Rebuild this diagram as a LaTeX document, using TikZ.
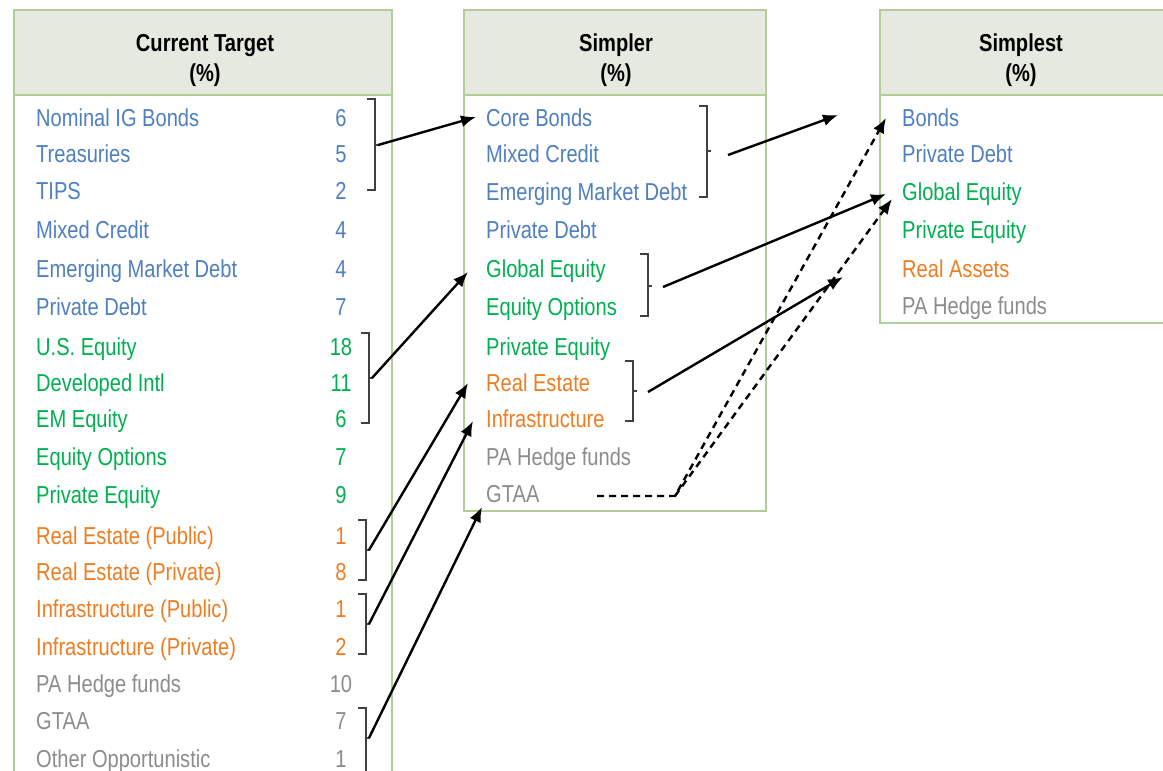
\documentclass[tikz,border=0pt]{standalone}
\usepackage{fontspec}
\setmainfont{Liberation Sans}[FakeStretch=0.82]
\usetikzlibrary{arrows.meta}
\definecolor{cblue}{HTML}{4F7FC0}
\definecolor{cgreen}{HTML}{00B050}
\definecolor{corange}{HTML}{EE7D22}
\definecolor{cgrey}{HTML}{8C8C8C}
\definecolor{hdrfill}{HTML}{E6E9DF}
\definecolor{boxline}{HTML}{B4CB9A}
\definecolor{brk}{HTML}{404040}
\begin{document}
\begin{tikzpicture}[x=1pt,y=-1pt,
  item/.style={anchor=base west,inner sep=0pt,font=\fontsize{24.5}{28}\selectfont},
  num/.style={anchor=base,inner sep=0pt,font=\fontsize{24.5}{28}\selectfont},
  hdr/.style={anchor=base,inner sep=0pt,font=\fontsize{24.5}{28}\selectfont\bfseries},
  bracket/.style={draw=brk,line width=2.6pt},
  conn/.style={draw=black,line width=2.4pt,-{Latex[length=15pt,width=12pt]}},
  dconn/.style={conn,dash pattern=on 7pt off 5pt},
  frame/.style={draw=boxline,line width=1.6pt},
  head/.style={frame,fill=hdrfill}]
\clip (0,0) rectangle (1163,771);
% boxes
\path[frame] (14,95) rectangle (392,800);
\path[head] (14,10) rectangle (392,95);
\path[frame] (464,95) rectangle (766,511);
\path[head] (464,10) rectangle (766,95);
\path[frame] (880,95) rectangle (1175,323);
\path[head] (880,10) rectangle (1175,95);
% headers
\node[hdr] (h1a) at (205,51) {Current Target};
\node[hdr] (h1b) at (205,81) {(\%)};
\node[hdr] (h2a) at (616,51) {Simpler};
\node[hdr] (h2b) at (616,81) {(\%)};
\node[hdr] (h3a) at (1021,51) {Simplest};
\node[hdr] (h3b) at (1021,81) {(\%)};
% left column
\foreach \t/\n/\c/\y [count=\i] in {
  {Nominal IG Bonds}/6/cblue/117, {Treasuries}/5/cblue/153, {TIPS}/2/cblue/190,
  {Mixed Credit}/4/cblue/229, {Emerging Market Debt}/4/cblue/268, {Private Debt}/7/cblue/306,
  {U.S. Equity}/18/cgreen/346, {Developed Intl}/11/cgreen/382, {EM Equity}/6/cgreen/418,
  {Equity Options}/7/cgreen/456, {Private Equity}/9/cgreen/494,
  {Real Estate (Public)}/1/corange/535, {Real Estate (Private)}/8/corange/571,
  {Infrastructure (Public)}/1/corange/608, {Infrastructure (Private)}/2/corange/646,
  {PA Hedge funds}/10/cgrey/683, {GTAA}/7/cgrey/720, {Other Opportunistic}/1/cgrey/758}{
  \node[item,text=\c] (L\i) at (36,\y+9) {\t};
  \node[num,text=\c] (LN\i) at (341,\y+9) {\n};
}
% middle column
\foreach \t/\c/\y [count=\i] in {
  {Core Bonds}/cblue/117, {Mixed Credit}/cblue/153, {Emerging Market Debt}/cblue/191,
  {Private Debt}/cblue/229, {Global Equity}/cgreen/268, {Equity Options}/cgreen/306,
  {Private Equity}/cgreen/346, {Real Estate}/corange/382, {Infrastructure}/corange/418,
  {PA Hedge funds}/cgrey/456, {GTAA}/cgrey/493}{
  \node[item,text=\c] (M\i) at (486,\y+9) {\t};
}
% right column
\foreach \t/\c/\y [count=\i] in {
  {Bonds}/cblue/117, {Private Debt}/cblue/153, {Global Equity}/cgreen/191,
  {Private Equity}/cgreen/229, {Real Assets}/corange/268, {PA Hedge funds}/cgrey/305}{
  \node[item,text=\c] (R\i) at (902,\y+9) {\t};
}
% brackets: x, top, bottom, mid, name
\foreach \x/\ta/\tb/\m/\nm in {375/99/190/145/b1, 369/333/423/378/b2, 366/520/580/550/b3,
  366/594/654/624/b4, 366/708/780/738/b5, 707/106/197/151/m1, 648/254/316/286/m2, 633/361/421/391/m3}{
  \draw[bracket] (\x-8,\ta) -- (\x,\ta) -- (\x,\tb) -- (\x-8,\tb);
  \draw[bracket] (\x,\m) -- (\x+4,\m);
  \coordinate (\nm) at (\x+3,\m);
}
% arrow start / end points
\coordinate (m1s) at (728,155);
\coordinate (m2s) at (663,287);
\coordinate (m3s) at (648,392);
\coordinate (a1e) at (476,117);
\coordinate (a2e) at (468,272);
\coordinate (a3e) at (468,383);
\coordinate (a4e) at (473,421);
\coordinate (a5e) at (482,507);
\coordinate (m1e) at (838,115);
\coordinate (m2e) at (886,194);
\coordinate (m3e) at (843,277);
\coordinate (gs) at (597,496);
\coordinate (gj) at (675,496);
\coordinate (d1e) at (886,118);
\coordinate (d2e) at (892,199);
% connectors
\draw[conn] (b1) -- (a1e);
\draw[conn] (b2) -- (a2e);
\draw[conn] (b3) -- (a3e);
\draw[conn] (b4) -- (a4e);
\draw[conn] (b5) -- (a5e);
\draw[conn] (m1s) -- (m1e);
\draw[conn] (m2s) -- (m2e);
\draw[conn] (m3s) -- (m3e);
\draw[dconn] (gs) -- (gj) -- (d1e);
\draw[dconn] (gj) -- (d2e);
\end{tikzpicture}
\end{document}
